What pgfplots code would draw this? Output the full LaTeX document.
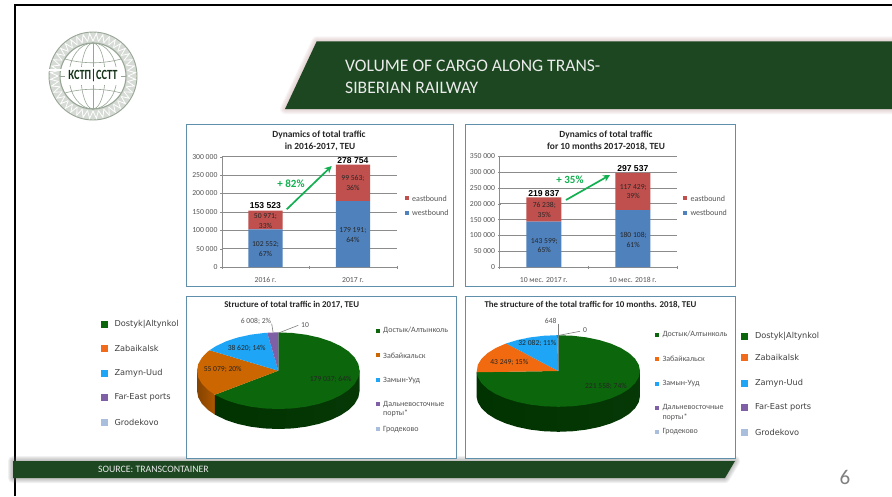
\documentclass[border=0pt]{standalone}
\usepackage{fontspec}
\setmainfont{Carlito}
\newfontfamily\arialf{Liberation Sans}
\newfontfamily\verdf{DejaVu Sans}
\usepackage{pgfplots}
\usetikzlibrary{arrows.meta}
\pgfplotsset{compat=1.18}
\definecolor{band}{HTML}{1C4721}
\definecolor{panel}{HTML}{5F8FAB}
\definecolor{gridc}{HTML}{8C8C8C}
\definecolor{tickt}{HTML}{555555}
\definecolor{east}{HTML}{C0504D}
\definecolor{west}{HTML}{4F81BD}
\definecolor{pgreen}{HTML}{0C660C}
\definecolor{porange}{HTML}{CC6600}
\definecolor{rorange}{HTML}{F26A0F}
\definecolor{pblue}{HTML}{1EA5F5}
\definecolor{ppurple}{HTML}{7F5FA5}
\definecolor{plight}{HTML}{A8BEDC}
\definecolor{lorange}{HTML}{F26A1B}
\definecolor{arrowg}{HTML}{12B050}
\definecolor{logoc}{HTML}{98A696}
\pgfplotsset{
  barax/.style={
    scale only axis, ybar stacked, ymin=0, xmin=-0.5, xmax=1.5, xtick={0,1},
    axis lines=left, axis line style={-,gridc}, ymajorgrids, grid style={gridc,line width=0.6pt},
    minor xtick={-0.5,0.5,1.5}, major x tick style={draw=none},
    minor tick length=3pt, minor tick style={gridc}, ytick style={gridc}, major tick length=2.5pt,
    tick label style={font=\fontsize{7.7}{8}\selectfont,text=tickt}, scaled y ticks=false,
    clip=false, yticklabel style={xshift=0.5pt}, xticklabel style={anchor=base,yshift=-14pt}},
  pieax/.style={scale only axis, hide axis, clip=false, xmin=-1,xmax=1,ymin=-1,ymax=1},
}
\tikzset{
  dl/.style={font=\fontsize{7.6}{9.4}\selectfont,text=black!85,align=center},
  tot/.style={font=\arialf\bfseries\fontsize{8.6}{9}\selectfont,text=black},
  pct/.style={font=\bfseries\fontsize{11}{12}\selectfont,text=arrowg},
  ttl/.style={font=\bfseries\fontsize{9.4}{12}\selectfont,text=black!85,align=center},
  ttlb/.style={font=\bfseries\fontsize{8.9}{12}\selectfont,text=black!85,align=center},
  leg/.style={anchor=west,font=\fontsize{8}{9.4}\selectfont,text=tickt,align=left},
  big/.style={anchor=west,font=\verdf\fontsize{8.2}{9}\selectfont,text=black!75},
  pl/.style={font=\fontsize{7.6}{9}\selectfont,text=black!85},
}
\begin{document}
\begin{tikzpicture}
\begin{scope}[x=1pt,y=-1pt]
\path[use as bounding box,fill=white] (0,0) rectangle (892,496);
% slide frame
\draw[black,line width=2pt] (15,496) -- (15,4.5) -- (892,4.5);
% header band with soft shadow
\foreach \w in {10,8,6,4,2}{
 \draw[black!60!red!40,opacity=0.09,line width=\w pt,line join=round] (285,109) -- (316.7,41.3) -- (892,41.3) -- (892,109) -- cycle;}
\fill[band] (285,109) -- (316.7,41.3) -- (892,41.3) -- (892,109) -- cycle;
\node[anchor=west,font=\fontsize{17.6}{22}\selectfont,text=white!92!black,align=left,inner sep=0pt] at (345,76.5) {VOLUME OF CARGO ALONG TRANS-\\SIBERIAN RAILWAY};
% footer band
\foreach \w in {10,8,6,4,2}{
 \draw[black!60,opacity=0.09,line width=\w pt,line join=round] (13,461) -- (735,461) -- (725,478) -- (13,478) -- cycle;}
\fill[band] (13,461) -- (735,461) -- (725,478) -- (13,478) -- cycle;
\node[anchor=west,font=\fontsize{9.8}{10}\selectfont,text=white!92!black,inner sep=0pt] at (98,469.5) {SOURCE: TRANSCONTAINER};
\node[font=\fontsize{21}{22}\selectfont,text=black!50] at (845,477) {6};
% logo
\begin{scope}[shift={(93,76)}]
 \fill[logoc!40] (0,0) circle (44);
 \draw[logoc,line width=0.9pt] (0,0) circle (44);
 \fill[white] (0,0) circle (33);
 \draw[logoc,line width=1.1pt] (0,0) circle (33);
 \foreach \a in {0,9,...,351}{
  \draw[white,line width=0.8pt] (\a:35) -- (\a+4.5:42.5) -- (\a+9:35);}
 \draw[logoc,line width=0.6pt] (0,-33) -- (0,33);
 \draw[logoc,line width=0.6pt] (0,0) ellipse (12 and 33);
 \draw[logoc,line width=0.6pt] (0,0) ellipse (24 and 33);
 \draw[logoc,line width=0.6pt] (-33,0) -- (33,0);
 \draw[logoc,line width=0.6pt] (-28,-17) .. controls (-10,-12) and (10,-12) .. (28,-17);
 \draw[logoc,line width=0.6pt] (-28,17) .. controls (-10,12) and (10,12) .. (28,17);
 \fill[white] (-47,-7) rectangle (-30,-5);
 \fill[white] (-28,-9) rectangle (28,9);
 \node[font=\bfseries\fontsize{14}{14}\selectfont,text=band!70!black,xscale=0.74] at (0,0) {КСТП|CCTT};
\end{scope}
% panels
\draw[panel,line width=1pt,fill=white] (186,124) rectangle (453,286);
\draw[panel,line width=1pt,fill=white] (465,124) rectangle (735,286);
\draw[panel,line width=1pt,fill=white] (186.7,296) rectangle (456,458);
\draw[panel,line width=1pt,fill=white] (465.5,296) rectangle (735,458);
% titles
\node[ttl] at (319,141) {Dynamics of total traffic\\ \ in 2016-2017, TEU};
\node[ttl] at (606,141) {Dynamics of total traffic\\for 10 months 2017-2018, TEU};
\node[ttlb] at (291.7,304.8) {Structure of total traffic in 2017, TEU};
\node[ttlb] at (590.5,304.8) {The structure of the total traffic for 10 months. 2018, TEU};
\end{scope}

% ---- bar chart 1
\begin{axis}[barax, at={(221.7pt,-267pt)}, anchor=south west, width=175pt, height=110.3pt,
  ymax=300000, bar width=34.4pt, xticklabels={2016 г.,2017 г.},
  ytick={0,50000,100000,150000,200000,250000,300000},
  yticklabels={0,50 000,100 000,150 000,200 000,250 000,300 000}]
\addplot[fill=west,draw=none] coordinates {(0,102552) (1,179191)};
\addplot[fill=east,draw=none] coordinates {(0,50971) (1,99563)};
\node[tot] at (axis cs:0,166500) {153 523};
\node[tot] at (axis cs:1,290500) {278 754};
\end{axis}
% ---- bar chart 2
\begin{axis}[barax, at={(499.3pt,-267pt)}, anchor=south west, width=178pt, height=110.7pt,
  ymax=350000, bar width=35pt, xticklabels={10 мес. 2017 г.,10 мес. 2018 г.},
  ytick={0,50000,100000,150000,200000,250000,300000,350000},
  yticklabels={0,50 000,100 000,150 000,200 000,250 000,300 000,350 000}]
\addplot[fill=west,draw=none] coordinates {(0,143599) (1,180108)};
\addplot[fill=east,draw=none] coordinates {(0,76238) (1,117429)};
\node[tot] at (axis cs:0,232500) {219 837};
\node[tot] at (axis cs:1,310500) {297 537};
\end{axis}

% ---- pie 1 (2017): shares as angles, clockwise from the top; axis centre (278.3,370.7), rx 81.3, ry 38.3
\begin{axis}[pieax, at={(197pt,-409pt)}, anchor=south west, width=162.6pt, height=76.6pt]
\addplot[data cs=polar,yshift=-20pt,draw=none,left color=porange!65!black,right color=porange!85!black] coordinates {(180,1)(190,1)(200,1)(210,1)(218.8,1)(187.7,.786)(152.4,1.128)};
\addplot[data cs=polar,yshift=-20pt,draw=none,left color=green!20!black,middle color=pgreen!90!black,right color=pgreen!55!black] coordinates {(218.8,1)(230,1)(240,1)(250,1)(260,1)(270,1)(280,1)(290,1)(300,1)(310,1)(320,1)(330,1)(340,1)(350,1)(360,1)(27.6,1.128)(187.7,.786)};
\addplot[data cs=polar,fill=pgreen,draw=none] coordinates {(0,0)(90,1)(80,1)(70,1)(60,1)(50,1)(40,1)(30,1)(20,1)(10,1)(0,1)(-10,1)(-20,1)(-30,1)(-40,1)(-50,1)(-60,1)(-70,1)(-80,1)(-90,1)(-100,1)(-110,1)(-120,1)(-130,1)(-140,1)(-141.2,1)};
\addplot[data cs=polar,fill=porange,draw=none] coordinates {(0,0)(218.8,1)(210,1)(200,1)(190,1)(180,1)(170,1)(160,1)(150,1)(147.7,1)};
\addplot[data cs=polar,fill=pblue,draw=none] coordinates {(0,0)(147.7,1)(140,1)(130,1)(120,1)(110,1)(100,1)(97.8,1)};
\addplot[data cs=polar,fill=ppurple,draw=none] coordinates {(0,0)(97.8,1)(95,1)(90,1)};
\end{axis}
% ---- pie 2 (2018): axis centre (558.3,371), rx 81.7, ry 35.8
\begin{axis}[pieax, at={(476.6pt,-406.8pt)}, anchor=south west, width=163.4pt, height=71.6pt]
\addplot[data cs=polar,yshift=-25pt,draw=none,left color=green!20!black,middle color=pgreen!90!black,right color=pgreen!55!black] coordinates {(182,1)(190,1)(200,1)(210,1)(220,1)(230,1)(240,1)(250,1)(260,1)(270,1)(280,1)(290,1)(300,1)(310,1)(320,1)(330,1)(340,1)(350,1)(360,1)(34.9,1.22)(146.4,1.199)};
\addplot[data cs=polar,fill=pgreen,draw=none] coordinates {(0,0)(90,1)(80,1)(70,1)(60,1)(50,1)(40,1)(30,1)(20,1)(10,1)(0,1)(-10,1)(-20,1)(-30,1)(-40,1)(-50,1)(-60,1)(-70,1)(-80,1)(-90,1)(-100,1)(-110,1)(-120,1)(-130,1)(-140,1)(-150,1)(-160,1)(-170,1)(-178,1)};
\addplot[data cs=polar,fill=rorange,draw=none] coordinates {(0,0)(182,1)(170,1)(160,1)(150,1)(140,1)(130,1)(129.7,1)};
\addplot[data cs=polar,fill=pblue,draw=none] coordinates {(0,0)(129.7,1)(120,1)(110,1)(100,1)(90.8,1)};
\addplot[data cs=polar,fill=ppurple,draw=none] coordinates {(0,0)(90.8,1)(90,1)};
\end{axis}

\begin{scope}[x=1pt,y=-1pt]
% bar value labels
\node[dl] at (265.5,249) {102 552;\\67\%};
\node[dl] at (352.9,235) {179 191;\\64\%};
\node[dl] at (265.5,221) {50 971;\\33\%};
\node[dl] at (352.9,183) {99 563;\\36\%};
\node[dl] at (544.3,245.7) {143 599;\\65\%};
\node[dl] at (633.2,240) {180 108;\\61\%};
\node[dl] at (544.3,210) {76 238;\\35\%};
\node[dl] at (633.2,191.7) {117 429;\\39\%};
% arrows and growth labels
\draw[arrowg,line width=1.7pt,-{Stealth[length=7pt,width=7pt]}] (286.7,209.3) -- (331.7,166);
\draw[arrowg,line width=1.7pt,-{Stealth[length=7pt,width=7pt]}] (566,200) -- (610,175);
\node[pct] at (291,183.3) {+ 82\%};
\node[pct] at (570,179.3) {+ 35\%};
% bar legends
\fill[east] (404.7,196.3) rectangle +(4,4); \node[leg] at (408.7,198.3) {eastbound};
\fill[west] (404.7,210.7) rectangle +(4,4); \node[leg] at (408.7,212.7) {westbound};
\fill[east] (683,196.3) rectangle +(4,4); \node[leg] at (687,198.3) {eastbound};
\fill[west] (683,210.7) rectangle +(4,4); \node[leg] at (687,212.7) {westbound};
% pie labels, left
\node[pl] at (330.7,379.3) {179 037; 64\%};
\node[pl] at (222.7,369) {55 079; 20\%};
\node[pl] at (246.7,348) {38 620; 14\%};
\node[pl,text=tickt] at (256,321) {6 008; 2\%};
\node[pl,text=tickt] at (305,325.3) {10};
\draw[gray,line width=0.6pt] (271.7,323.7) -- (273.3,333.7);
\draw[gray,line width=0.6pt] (298.3,325.3) -- (279.3,332.7);
% pie labels, right
\node[pl] at (606,386.3) {221 558; 74\%};
\node[pl] at (509.3,362.7) {43 249; 15\%};
\node[pl] at (537.3,343.7) {32 082; 11\%};
\node[pl,text=tickt] at (550.7,321) {648};
\node[pl,text=tickt] at (585,330.3) {0};
\draw[gray,line width=0.6pt] (558.3,323.7) -- (558.3,335.3);
\draw[gray,line width=0.6pt] (580,331.3) -- (559,335.3);
% inner legends
\foreach \c/\y/\t in {pgreen/330.7/Достык\slash Алтынколь,porange/355.3/Забайкальск,pblue/380.3/Замын-Ууд,plight/429.3/Гродеково}{
 \fill[\c] (375.7,\y-2) rectangle +(4,4); \node[leg] at (379.7,\y) {\t};}
\fill[ppurple] (375.7,402.3) rectangle +(4,4); \node[leg] at (379.7,409.3) {Дальневосточные\\порты*};
\foreach \c/\y/\t in {pgreen/334.7/Достык\slash Алтынколь,rorange/358.7/Забайкальск,pblue/383.7/Замын-Ууд,plight/432/Гродеково}{
 \fill[\c] (655.3,\y-2) rectangle +(4,4); \node[leg] at (659,\y) {\t};}
\fill[ppurple] (655.3,405.7) rectangle +(4,4); \node[leg] at (659,412.5) {Дальневосточные\\порты*};
% outer legends
\foreach \c/\y/\t in {pgreen/324.7/Dostyk|Altynkol,lorange/348/Zabaikalsk,pblue/373.7/Zamyn-Uud,ppurple/397.3/Far-East ports,plight/422/Grodekovo}{
 \fill[\c] (100.5,\y-3.5) rectangle +(7,7); \node[big] at (111,\y) {\t};}
\foreach \c/\y/\t in {pgreen/336/Dostyk|Altynkol,lorange/357/Zabaikalsk,pblue/383.7/Zamyn-Uud,ppurple/407.7/Far-East ports,plight/432/Grodekovo}{
 \fill[\c] (740.5,\y-3.5) rectangle +(7,7); \node[big] at (751.5,\y) {\t};}
\end{scope}
\end{tikzpicture}
\end{document}
